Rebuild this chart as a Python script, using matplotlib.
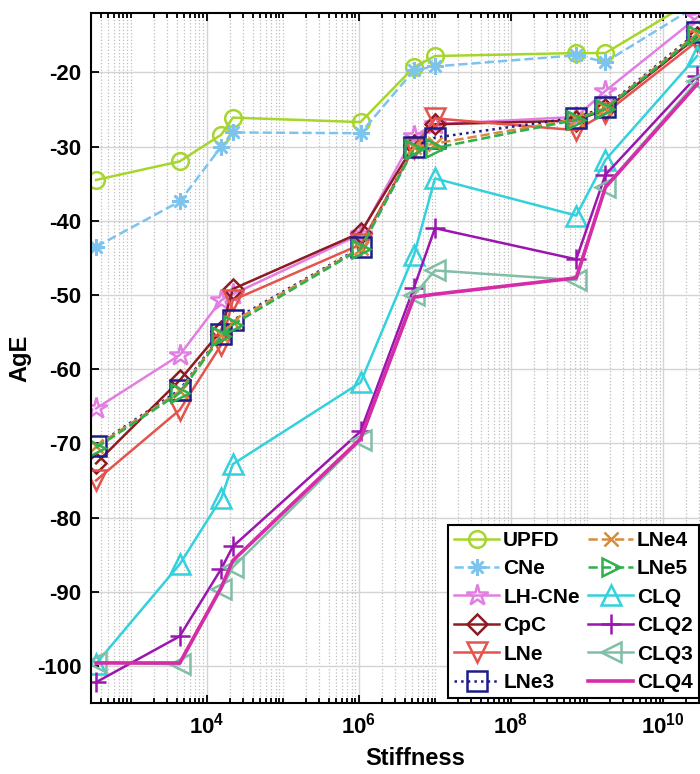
import numpy as np
import matplotlib
matplotlib.use("Agg")
import matplotlib.pyplot as plt
from matplotlib.ticker import LogLocator, NullFormatter

plt.rcParams['font.family'] = ['Liberation Sans', 'DejaVu Sans']
plt.rcParams['font.weight'] = 'bold'
plt.rcParams['mathtext.fontset'] = 'custom'
plt.rcParams['mathtext.rm'] = 'Liberation Sans:bold'
plt.rcParams['mathtext.bf'] = 'Liberation Sans:bold'
plt.rcParams['axes.unicode_minus'] = False

# stiffness values (x)
stiffness = [350, 4400, 1.55e4, 2.2e4, 1.05e6, 5.3e6, 1.0e7, 7.2e8, 1.74e9, 2.8e10]

upfd   = [-34.5, -32.0, -28.4, -26.1, -26.7, -19.3, -17.8, -17.4, -17.4, -10.0]
cne    = [-43.5, -37.4, -30.0, -28.1, -28.2, -19.7, -19.2, -17.7, -18.6, -11.0]
lh_cne = [-65.3, -58.1, -50.7, -49.9, -41.8, -28.6, -27.0, -26.0, -22.5, -12.6]
cpc    = [-72.7, -61.5, -54.8, -49.2, -41.6, -29.8, -27.0, -26.5, -25.0, -15.2]
lne    = [-75.0, -65.5, -56.7, -50.7, -43.2, -30.2, -26.2, -27.8, -25.5, -15.8]
lne3   = [-70.3, -62.8, -55.3, -53.4, -43.6, -30.0, -28.8, -26.1, -24.7, -14.6]
lne4   = [-70.4, -63.0, -55.4, -53.6, -43.7, -30.1, -29.6, -26.3, -24.8, -14.8]
lne5   = [-70.6, -63.2, -55.6, -54.0, -43.8, -30.3, -30.2, -26.4, -24.9, -15.0]
clq    = [-99.7, -86.3, -77.4, -72.8, -61.8, -44.6, -34.3, -39.3, -31.8, -17.8]
clq2   = [-102.2, -96.0, -86.9, -83.9, -68.4, -49.0, -41.0, -45.2, -33.8, -20.5]
clq3   = [-99.5, -99.8, -89.6, -86.7, -69.6, -50.0, -46.7, -48.0, -35.4, -21.2]
clq4   = [-99.6, -99.6, -89.4, -85.8, -69.4, -50.3, -49.9, -47.7, -35.5, -21.6]

asterisk = (8, 2, 0)
series = [
    ('UPFD',   upfd,   '#a6d62c', '-',  'o', 12),
    ('CNe',    cne,    '#7cc4ee', '--', asterisk, 12),
    ('LH-CNe', lh_cne, '#e27ee2', '-',  '*', 16),
    ('CpC',    cpc,    '#8c1c22', '-',  'D', 10),
    ('LNe',    lne,    '#e5544c', '-',  'v', 14),
    ('LNe3',   lne3,   '#1c1c8a', ':',  's', 14),
    ('LNe4',   lne4,   '#d98a3a', '--', 'x', 10),
    ('LNe5',   lne5,   '#2eb04e', '--', '>', 13),
    ('CLQ',    clq,    '#33d1dc', '-',  '^', 14),
    ('CLQ2',   clq2,   '#9a16ae', '-',  '+', 15),
    ('CLQ3',   clq3,   '#80bfa6', '-',  '<', 14),
    ('CLQ4',   clq4,   '#d62ca8', '-',  None, 0),
]

fig = plt.figure(figsize=(7.0, 7.74), dpi=100)
# right spine lies beyond the figure edge (cropped like the reference)
ax = fig.add_axes([0.13, 0.0917, 0.926, 0.8915])

for name, y, col, ls, mk, ms in series:
    lw = 2.6 if name == 'CLQ4' else 1.8
    ax.plot(stiffness, y, color=col, linestyle=ls, marker=mk, markersize=ms,
            markerfacecolor='none', markeredgecolor=col, markeredgewidth=1.8,
            linewidth=lw, label=name)

ax.set_xscale('log')
ax.set_xlim(300, 1e11)
ax.set_ylim(-105, -12)
ax.set_xticks([1e4, 1e6, 1e8, 1e10])
ax.set_xticklabels([r'$10^{4}$', r'$10^{6}$', r'$10^{8}$', r'$10^{10}$'])
ax.xaxis.set_minor_locator(LogLocator(base=10, subs=np.arange(1, 10), numticks=50))
ax.xaxis.set_minor_formatter(NullFormatter())
ax.set_yticks([-100, -90, -80, -70, -60, -50, -40, -30, -20])

ax.grid(True, which='major', color='#d4d4d4', linewidth=1.0)
ax.grid(True, which='minor', axis='x', color='#bdbdbd', linestyle=':', linewidth=0.9)
ax.set_axisbelow(True)

ax.tick_params(which='both', direction='in', top=True, right=True, labelsize=16, width=1.3)
ax.tick_params(which='major', length=6, pad=7)
ax.tick_params(which='minor', length=3.5)
for s in ax.spines.values():
    s.set_linewidth(1.5)

ax.set_xlabel('Stiffness', fontsize=17, fontweight='bold', labelpad=6)
ax.set_ylabel('AgE', fontsize=17, fontweight='bold', labelpad=4)

leg = ax.legend(ncol=2, loc='upper left', bbox_to_anchor=(0.64, 0.322),
                bbox_transform=fig.transFigure, fontsize=15, frameon=True,
                fancybox=False, edgecolor='black', framealpha=1,
                handlelength=2.15, handletextpad=0.2, columnspacing=0.4,
                labelspacing=0.45, borderpad=0.3, borderaxespad=0)
leg.get_frame().set_linewidth(1.5)

fig.savefig('out.png', dpi=100)
